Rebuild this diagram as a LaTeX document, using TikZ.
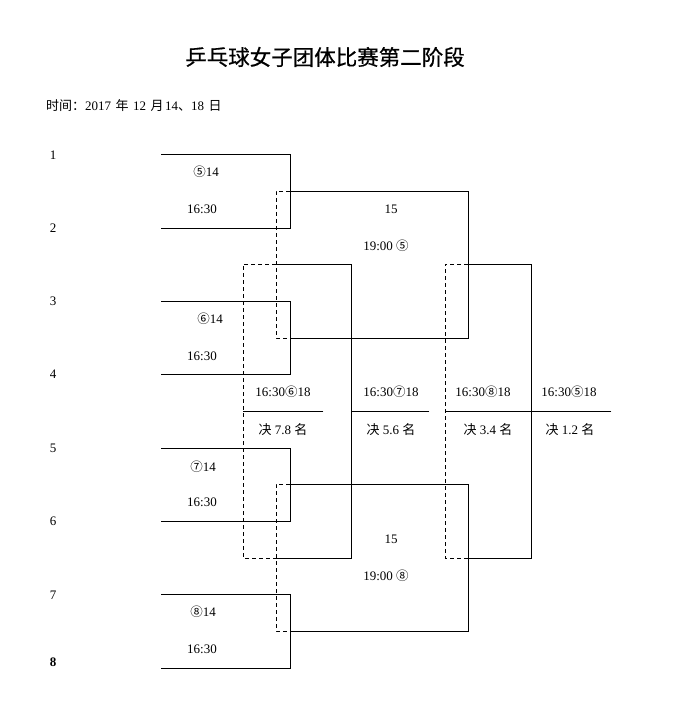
\documentclass[tikz,border=0pt]{standalone}
\usepackage{fontspec}
\setmainfont{Liberation Serif}
\newfontfamily\cjk{Noto Sans CJK SC}
\newfontfamily\cjkb[FakeBold=0.6]{Noto Sans CJK SC}
\newcommand{\cn}[1]{{\cjk\fontsize{12.5}{12.5}\selectfont #1}}
\newcommand{\gp}{\hspace{4.5pt}}
\begin{document}
\begin{tikzpicture}[x=1pt,y=-1pt,
  ln/.style={line width=0.8pt, line cap=rect},
  dl/.style={line width=0.8pt, dash pattern=on 4pt off 3pt},
  txt/.style={font=\fontsize{13}{13}\selectfont, inner sep=0pt},
  seed/.style={txt, anchor=center}]
\useasboundingbox[fill=white] (0,0) rectangle (672,703);

% title and date
\node[inner sep=0pt, font=\cjkb\fontsize{21.5}{21.5}\selectfont] (title) at (325,57) {乒乓球女子团体比赛第二阶段};
\node[txt, anchor=west] (date) at (46,106) {{\cjk 时间：}2017\gp{\cjk 年}\gp12\gp{\cjk 月}\hspace{1.5pt}14{\cjk 、}18\gp{\cjk 日}};

% seed labels
\node[seed] (s1) at (53,155) {1};
\node[seed] (s2) at (53,228) {2};
\node[seed] (s3) at (53,301) {3};
\node[seed] (s4) at (53,374) {4};
\node[seed] (s5) at (53,448) {5};
\node[seed] (s6) at (53,521) {6};
\node[seed] (s7) at (53,595) {7};
\node[seed, font=\bfseries\fontsize{13}{13}\selectfont] (s8) at (53,662) {8};

% round 1 coordinates
\coordinate (a1) at (161,154); \coordinate (c1) at (290,154);
\coordinate (a2) at (161,228); \coordinate (c2) at (290,228);
\coordinate (a3) at (161,301); \coordinate (c3) at (290,301);
\coordinate (a4) at (161,374); \coordinate (c4) at (290,374);
\coordinate (a5) at (161,448); \coordinate (c5) at (290,448);
\coordinate (a6) at (161,521); \coordinate (c6) at (290,521);
\coordinate (a7) at (161,594); \coordinate (c7) at (290,594);
\coordinate (a8) at (161,668); \coordinate (c8) at (290,668);
\coordinate (m1) at (290,191); \coordinate (m2) at (290,338);
\coordinate (m3) at (290,484); \coordinate (m4) at (290,631);

\draw[ln] (a1) -- (c1) -- (c2) -- (a2);
\draw[ln] (a3) -- (c3) -- (c4) -- (a4);
\draw[ln] (a5) -- (c5) -- (c6) -- (a6);
\draw[ln] (a7) -- (c7) -- (c8) -- (a8);

% semifinals (winners)
\coordinate (w1) at (468,191); \coordinate (w2) at (468,338);
\coordinate (w3) at (468,484); \coordinate (w4) at (468,631);
\draw[ln] (m1) -- (w1) -- (w2) -- (m2);
\draw[ln] (m3) -- (w3) -- (w4) -- (m4);

% round 1 losers (dashed)
\coordinate (d1) at (276,191); \coordinate (d2) at (276,338);
\coordinate (d3) at (276,484); \coordinate (d4) at (276,631);
\coordinate (lm1) at (276,264); \coordinate (lm2) at (276,558);
\draw[dl] (m1) -- (d1) -- (d2) -- (m2);
\draw[dl] (m3) -- (d3) -- (d4) -- (m4);

% places 5-8
\coordinate (e1) at (243,264); \coordinate (e2) at (243,558);
\coordinate (f1) at (351,264); \coordinate (f2) at (351,558);
\draw[dl] (lm1) -- (e1) -- (e2) -- (lm2);
\draw[ln] (lm1) -- (f1) -- (f2) -- (lm2);
\coordinate (g78a) at (243,411); \coordinate (g78b) at (323,411);
\coordinate (g56a) at (351,411); \coordinate (g56b) at (429,411);
\draw[ln] (g78a) -- (g78b);
\draw[ln] (g56a) -- (g56b);

% places 1-4
\coordinate (wm1) at (468,264); \coordinate (wm2) at (468,558);
\coordinate (h1) at (445,264); \coordinate (h2) at (445,558);
\coordinate (k1) at (531,264); \coordinate (k2) at (531,558);
\draw[dl] (wm1) -- (h1) -- (h2) -- (wm2);
\draw[ln] (wm1) -- (k1) -- (k2) -- (wm2);
\coordinate (g34a) at (445,411); \coordinate (g12b) at (611,411);
\draw[ln] (g34a) -- (g12b);

% match labels
\node[txt] (t1a) at (206,172) {\cn{⑤}14};
\node[txt] (t1b) at (202,209) {16:30};
\node[txt] (t2a) at (210,319) {\cn{⑥}14};
\node[txt] (t2b) at (202,356) {16:30};
\node[txt] (t3a) at (203,467) {\cn{⑦}14};
\node[txt] (t3b) at (202,502) {16:30};
\node[txt] (t4a) at (203,612) {\cn{⑧}14};
\node[txt] (t4b) at (202,649) {16:30};

\node[txt] (u1a) at (391,209) {15};
\node[txt] (u1b) at (386,246) {19:00\ \cn{⑤}};
\node[txt] (u2a) at (391,539) {15};
\node[txt] (u2b) at (386,576) {19:00\ \cn{⑧}};

\node[txt] (v1a) at (283,392) {16:30\cn{⑥}18};
\node[txt] (v1b) at (283,430) {{\cjk 决} 7.8 {\cjk 名}};
\node[txt] (v2a) at (391,392) {16:30\cn{⑦}18};
\node[txt] (v2b) at (391,430) {{\cjk 决} 5.6 {\cjk 名}};
\node[txt] (v3a) at (483,392) {16:30\cn{⑧}18};
\node[txt] (v3b) at (488,430) {{\cjk 决} 3.4 {\cjk 名}};
\node[txt] (v4a) at (569,392) {16:30\cn{⑤}18};
\node[txt] (v4b) at (570,430) {{\cjk 决} 1.2 {\cjk 名}};
\end{tikzpicture}
\end{document}
